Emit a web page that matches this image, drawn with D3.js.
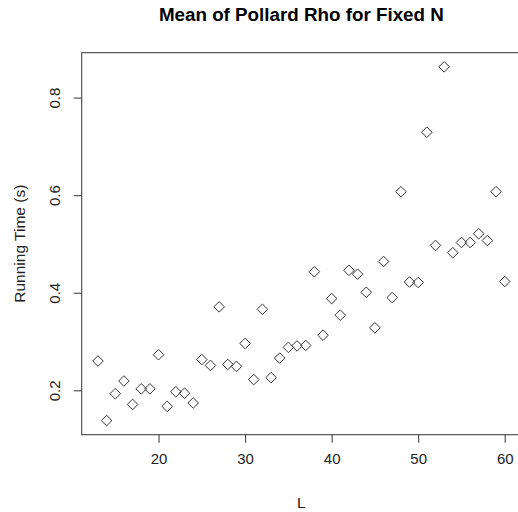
<!DOCTYPE html>
<html>
    <head>
        <meta charset="utf-8">
        <script src="https://d3js.org/d3.v7.min.js"></script>
        <style>
            body { margin: 0; background: #fff; }
            svg { display: block; font-family: "Liberation Sans", Arial, sans-serif; }
            .axis path { display: none; }
            .axis line { stroke: #444; stroke-width: 1.1; }
            .axis text { fill: #222; font-size: 15px; }
        </style>
    </head>
    <body>
        <svg width="518" height="512">
            <g class="data"></g>
            <g class="axis x-axis"></g>
            <g class="axis y-axis"></g>
        </svg>

        <script>
            // L values and mean running time (s)
            var L = [13, 14, 15, 16, 17, 18, 19, 20, 21, 22, 23, 24, 25, 26, 27, 28,
                     29, 30, 31, 32, 33, 34, 35, 36, 37, 38, 39, 40, 41, 42, 43, 44,
                     45, 46, 47, 48, 49, 50, 51, 52, 53, 54, 55, 56, 57, 58, 59, 60];
            var runningTime = [0.260, 0.138, 0.193, 0.219, 0.171, 0.203, 0.203, 0.273,
                               0.167, 0.197, 0.194, 0.174, 0.263, 0.251, 0.371, 0.253,
                               0.249, 0.296, 0.222, 0.366, 0.226, 0.266, 0.288, 0.291,
                               0.292, 0.443, 0.313, 0.388, 0.354, 0.446, 0.438, 0.401,
                               0.328, 0.464, 0.390, 0.607, 0.422, 0.421, 0.729, 0.497,
                               0.863, 0.482, 0.503, 0.503, 0.521, 0.507, 0.607, 0.423];
            var xTicks = [20, 30, 40, 50, 60];
            var yTicks = [0.2, 0.4, 0.6, 0.8];

            var data = L.map(function (l, i) { return { L: l, t: runningTime[i] }; });

            var root = d3.select('svg');
            // plot region (the frame runs off the right edge, as in the original)
            var PL = 81.7, PR = 521, PT = 52.7, PB = 434.7;

            // R style: extend data range by 4% on each side
            function pad(ext) {
                var d = (ext[1] - ext[0]) * 0.04;
                return [ext[0] - d, ext[1] + d];
            }

            var x = d3.scaleLinear()
                .domain(pad(d3.extent(L)))
                .range([PL, PR]);

            var y = d3.scaleLinear()
                .domain(pad(d3.extent(runningTime)))
                .range([PB, PT]);

            var xAxis = d3.axisBottom(x)
                .tickValues(xTicks)
                .tickFormat(d3.format('d'))
                .tickSize(8)
                .tickPadding(11);

            var yAxis = d3.axisLeft(y)
                .tickValues(yTicks)
                .tickFormat(d3.format('.1f'))
                .tickSize(8);

            root.select('.x-axis')
                .attr('transform', 'translate(0,' + PB + ')')
                .call(xAxis);

            root.select('.y-axis')
                .attr('transform', 'translate(' + PL + ',0)')
                .call(yAxis);

            // y tick labels are rotated, like R's default las=0
            root.select('.y-axis').selectAll('text')
                .attr('x', null)
                .attr('dy', null)
                .attr('transform', 'translate(-22,0) rotate(-90)')
                .attr('text-anchor', 'middle');

            // plot frame
            root.append('rect')
                .attr('x', PL)
                .attr('y', PT)
                .attr('width', PR - PL)
                .attr('height', PB - PT)
                .attr('fill', 'none')
                .attr('stroke', '#444')
                .attr('stroke-width', 1.1);

            // diamonds (pch = 5)
            var s = 5.3;
            root.select('.data')
                .selectAll('path')
                .data(data)
                .enter()
                .append('path')
                .attr('d', function (d) {
                    var cx = x(d.L), cy = y(d.t);
                    return 'M' + cx + ',' + (cy - s) + 'L' + (cx + s) + ',' + cy +
                           'L' + cx + ',' + (cy + s) + 'L' + (cx - s) + ',' + cy + 'Z';
                })
                .attr('fill', 'none')
                .attr('stroke', '#333')
                .attr('stroke-width', 1);

            root.append('text')
                .attr('x', (PL + PR) / 2)
                .attr('y', 21)
                .attr('text-anchor', 'middle')
                .style('font-size', '18.8px')
                .style('font-weight', 'bold')
                .attr('fill', '#000')
                .text('Mean of Pollard Rho for Fixed N');

            root.append('text')
                .attr('x', (PL + PR) / 2)
                .attr('y', 508)
                .attr('text-anchor', 'middle')
                .style('font-size', '15.5px')
                .attr('fill', '#222')
                .text('L');

            root.append('text')
                .attr('transform', 'translate(24.5,' + (PT + PB) / 2 + ') rotate(-90)')
                .attr('text-anchor', 'middle')
                .style('font-size', '15.5px')
                .attr('fill', '#222')
                .text('Running Time (s)');
        </script>
    </body>
</html>
